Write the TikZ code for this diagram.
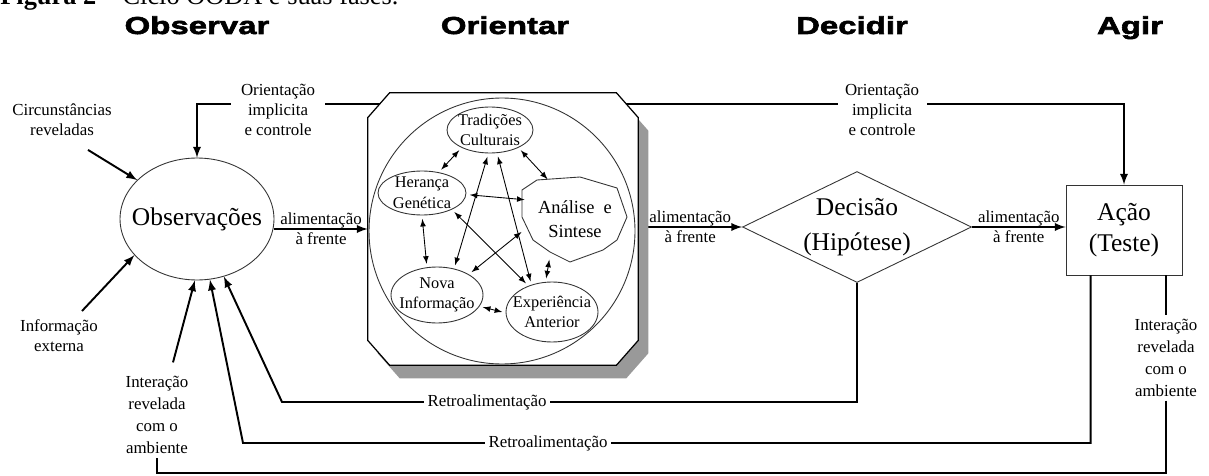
\documentclass[tikz,border=0pt]{standalone}
\usepackage{fontspec}
\setmainfont{Liberation Serif}
\newfontfamily\headfont[FakeStretch=1.35,FakeBold=2.5]{Liberation Sans}
\usetikzlibrary{shapes.geometric,shadows}

\tikzset{
  lbl/.style={font=\fontsize{9.6}{11.5}\selectfont, align=center, inner sep=2pt},
  tall/.style={font=\fontsize{9.6}{12.5}\selectfont},
  head/.style={font=\headfont\bfseries\fontsize{13.9}{16}\selectfont, anchor=base},
  big/.style={font=\fontsize{14.5}{20}\selectfont, align=center},
  thinline/.style={draw=black!80, line width=0.5pt},
  arr/.style={line width=1.1pt, -latex},
  flow/.style={line width=1.1pt},
  dbl/.style={line width=0.5pt, latex-latex, shorten >=2pt, shorten <=2pt},
  inner/.style={ellipse, thinline, inner xsep=-0.15cm, inner ysep=-0.1cm,
    font=\fontsize{9.3}{11.8}\selectfont, align=center}
}

\begin{document}
\begin{tikzpicture}[x=0.02cm, y=-0.02cm]
\useasboundingbox (0,0) rectangle (1209,476);

% caption, cut at the top
\node[anchor=base west, inner sep=0, font=\fontsize{15}{18}\selectfont] (title) at (0,5)
  {\textbf{Figura 2} -- Ciclo OODA e suas fases.};

% phases
\node[head] (hobs) at (197,34) {Observar};
\node[head] (hori) at (505,34) {Orientar};
\node[head] (hdec) at (852,34) {Decidir};
\node[head] (hagi) at (1130,34) {Agir};

% main blocks
\node[ellipse, thinline, minimum width=3.08cm, minimum height=2.44cm,
  label={[big]center:Observações}] (obs) at (197,219) {};
\node[minimum width=5.4cm, minimum height=5.44cm, inner sep=0] (orient) at (503,229) {};
\node[diamond, thinline, aspect=2.06, big, inner sep=0,
  minimum width=4.58cm, minimum height=2.22cm] (dec) at (857,227) {Decisão\\(Hipótese)};
\node[rectangle, thinline, big, font=\fontsize{14.5}{17.6}\selectfont,
  minimum width=2.32cm, minimum height=1.8cm] (acao) at (1124,230) {Ação\\(Teste)};

% outside labels
\node[lbl] (circ) at (62,120) {Circunstâncias\\reveladas};
\node[lbl] (info) at (59,336) {Informação\\externa};
\node[lbl, tall] (intL) at (157,415) {Interação\\revelada\\com o\\ambiente};
\node[lbl, tall] (intR) at (1166,358) {Interação\\revelada\\com o\\ambiente};

\coordinate (top) at (503,104);
\coordinate (fb1) at (282,402);
\coordinate (fb2) at (243,443);
\coordinate (bot) at (600,473);

% implicit guidance and control
\draw[arr] (top) -| (obs.north);
\draw[arr] (top) -| (acao.north);
\node[lbl, fill=white, inner xsep=0.2cm] (ctlL) at (278,110) {Orientação\\implicita\\e controle};
\node[lbl, fill=white, inner xsep=0.15cm] (ctlR) at (882,110) {Orientação\\implicita\\e controle};

% feed forward
\draw[arr] (obs.east |- orient.west) -- node[lbl] {alimentação\\à frente} (orient.west);
\draw[arr] (orient.east |- dec.west) -- node[lbl] {alimentação\\à frente} (dec.west);
\draw[arr] (dec.east) -- node[lbl] {alimentação\\à frente} (dec.east -| acao.west);

% orient box
\draw[line width=0.7pt, fill=white,
  drop shadow={shadow xshift=0.2cm, shadow yshift=-0.26cm, fill=black!40, opacity=1}]
  ([xshift=0.44cm]orient.north west) -- ([xshift=-0.44cm]orient.north east)
  -- ([yshift=-0.5cm]orient.north east) -- ([yshift=0.5cm]orient.south east)
  -- ([xshift=-0.44cm]orient.south east) -- ([xshift=0.44cm]orient.south west)
  -- ([yshift=0.5cm]orient.south west) -- ([yshift=-0.5cm]orient.north west) -- cycle;
\node[circle, thinline, minimum size=5.32cm] (cyc) at (502,231) {};

\node[inner, minimum width=1.72cm, minimum height=0.92cm] (trad) at (490,130) {Tradições\\Culturais};
\node[inner, minimum width=1.76cm, minimum height=0.88cm] (her) at (422,193) {Herança\\Genética};
\node[inner, minimum width=1.84cm, minimum height=1.12cm] (nova) at (437,295) {Nova\\Informação};
\node[inner, minimum width=1.84cm, minimum height=1.2cm] (exp) at (552,312) {Experiência\\Anterior};
\node[ellipse, minimum width=2.08cm, minimum height=1.68cm, inner sep=0, align=center,
  font=\fontsize{10.5}{13.7}\selectfont] (ana) at (575,219) {Análise\enspace e\\Sintese};
\draw[thinline, shift={(ana.center)}] (-53,-29) -- (-38,-39) -- (5,-42) -- (42,-31)
  -- (52,-2) -- (42,21) -- (28,31) -- (-5,43) -- (-25,33) -- (-42,21) -- (-53,-2) -- cycle;

\draw[dbl] (trad.212) -- (her.51);
\draw[dbl] (trad.328) -- (ana.124);
\draw[dbl] (her.358) -- (ana.158);
\draw[dbl] (her.270) -- (nova.110);
\draw[dbl] (nova.345) -- (exp.181);
\draw[dbl] (ana.236) -- (exp.102);
\draw[dbl] (trad.266) -- (nova.57);
\draw[dbl] (trad.287) -- (exp.127);
\draw[dbl] (her.331) -- (exp.132);
\draw[dbl] (ana.192) -- (nova.33);

% feedback
\draw[arr] (dec.south) |- (fb1) -- (obs.295);
\node[lbl, fill=white] (fb1lbl) at (487,402) {Retroalimentação};
\draw[arr] ([xshift=0.5cm]acao.south west) |- (fb2) -- (obs.282);
\node[lbl, fill=white] (fb2lbl) at (548,443) {Retroalimentação};

% interaction with the environment
\draw[flow] (acao.south -| intR) -- (intR.north);
\draw[flow] (intR.south) |- (bot) -| (intL.south);
\draw[arr] ([xshift=0.32cm, yshift=0.2cm]intL.north) -- (obs.268);
\draw[arr] ([xshift=0.52cm, yshift=-0.2cm]circ.south) -- (obs.147);
\draw[arr] ([xshift=0.46cm, yshift=0.1cm]info.north) -- (obs.210);
\end{tikzpicture}
\end{document}
